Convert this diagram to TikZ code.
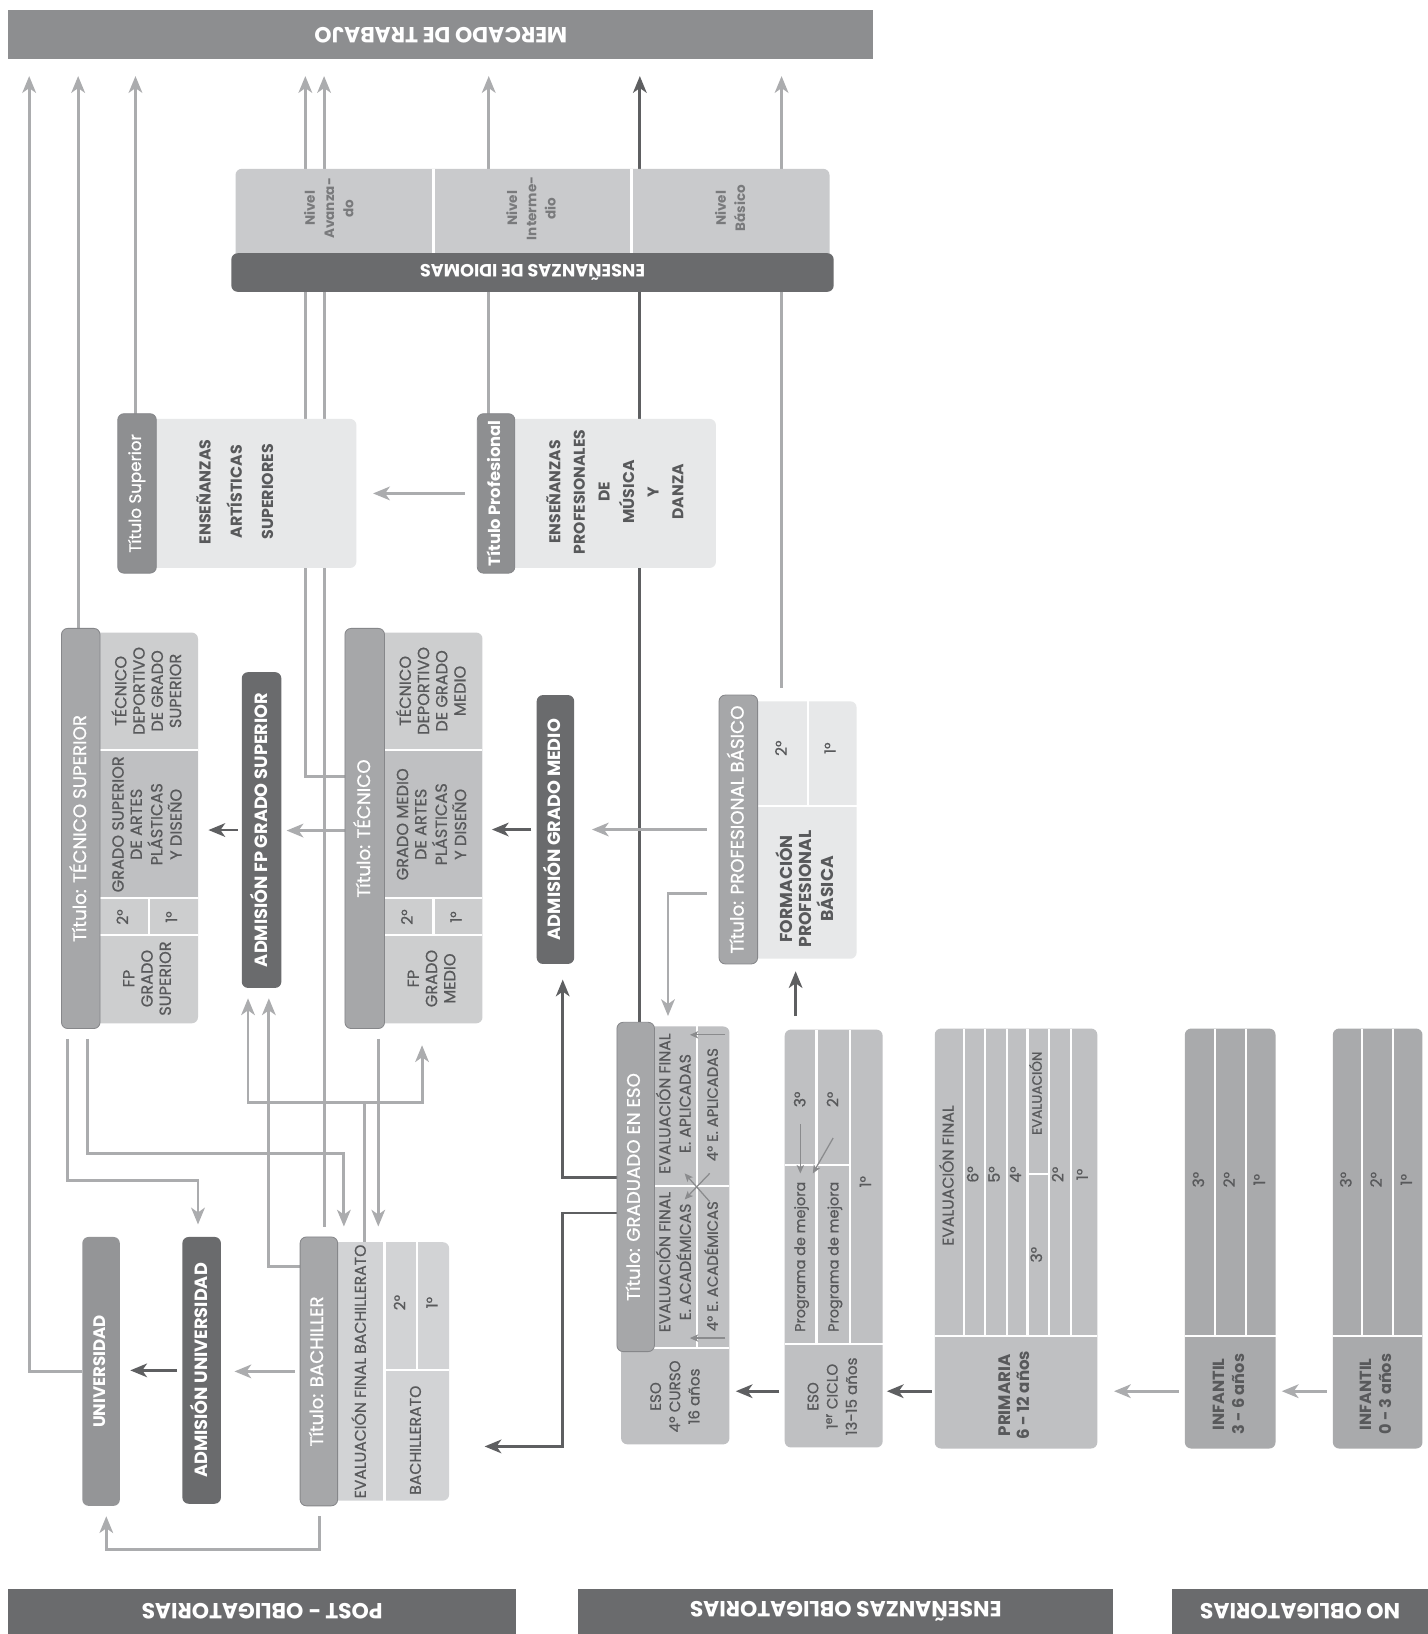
\documentclass[tikz,border=0pt]{standalone}
\usepackage{fontspec}
\setmainfont{Poppins}[UprightFeatures={FakeBold=0.8}]
\usetikzlibrary{arrows.meta}
\pgfdeclarelayer{bg}
\pgfsetlayers{bg,main}
\definecolor{cBanner}{HTML}{8D8E90}
\definecolor{cDark}{HTML}{6A6B6D}
\definecolor{cBar}{HTML}{A6A7A9}
\definecolor{cBarEdge}{HTML}{86878A}
\definecolor{cBarD}{HTML}{8E8F91}
\definecolor{cUni}{HTML}{949597}
\definecolor{cLight}{HTML}{E7E8E9}
\definecolor{cTec}{HTML}{CDCECF}
\definecolor{cArt}{HTML}{BFC0C2}
\definecolor{cBach}{HTML}{D2D3D5}
\definecolor{cEso}{HTML}{BFC0C2}
\definecolor{cInf}{HTML}{A9AAAC}
\definecolor{cIdi}{HTML}{C9CACC}
\definecolor{cArrG}{HTML}{ABACAE}
\definecolor{cArrD}{HTML}{5E5F61}
\definecolor{cThin}{HTML}{8A8B8D}
\definecolor{cTxt}{HTML}{58595B}
\newcommand\fs[2]{\fontsize{#1}{#2}\selectfont}
\newcommand\vt[1]{\rotatebox{90}{\begin{tabular}{@{}c@{}}#1\end{tabular}}}
\newcommand\ut[1]{\rotatebox{180}{#1}}
\begin{document}
\begin{tikzpicture}[x=1pt,y=-1pt,
  blk/.style={rectangle, inner sep=0pt, outer sep=0pt, rounded corners=6pt},
  bar/.style={blk, fill=cBar, draw=cBarEdge, line width=0.8pt, text=white, font=\fs{17.5}{20}},
  barD/.style={blk, fill=cBarD, draw=cBarEdge, line width=0.8pt, text=white, font=\fs{16}{19}},
  adm/.style={blk, fill=cDark, text=white, font=\fs{17}{20}\bfseries},
  banner/.style={rectangle, inner sep=0pt, outer sep=0pt, text=white, font=\fs{21}{24}\bfseries},
  cell/.style={inner sep=0pt, text=cTxt, font=\fs{15.5}{17.5}},
  cellS/.style={inner sep=0pt, text=cTxt, font=\fs{15}{19.5}},
  cellB/.style={inner sep=0pt, text=cTxt, font=\fs{15}{18}\bfseries},
  div/.style={white, line width=2pt},
  gl/.style={draw=cArrG, line width=2.8pt},
  ga/.style={gl, -{Stealth[length=16pt,width=13pt,inset=4.5pt]}},
  dl/.style={draw=cArrD, line width=2.8pt},
  da/.style={dl, -{Stealth[length=16pt,width=13pt,inset=4.5pt]}},
  tl/.style={draw=cThin, line width=1.2pt},
  ta/.style={tl, -{Stealth[length=8pt,width=7pt,inset=2pt]}}
]
\useasboundingbox (0,0) rectangle (1370,1568);
\begin{pgfonlayer}{bg}
\fill[white] (0,0) rectangle (1370,1568);
\end{pgfonlayer}

% ---------------- banners
\node[banner, fill=cBanner, minimum width=830pt, minimum height=47pt] (mercado) at (423,33.5) {\ut{MERCADO DE TRABAJO}};
\node[banner, fill=cDark, minimum width=487pt, minimum height=43pt] (post) at (251.5,1546.5) {\ut{POST - OBLIGATORIAS}};
\node[banner, fill=cDark, minimum width=513pt, minimum height=43pt] (oblig) at (811.5,1546.5) {\ut{ENSEÑANZAS OBLIGATORIAS}};
\node[banner, fill=cDark, minimum width=245pt, minimum height=43pt] (noob) at (1247.5,1546.5) {\ut{NO OBLIGATORIAS}};

% ---------------- idiomas
\node[blk, fill=cIdi, minimum width=570pt, minimum height=95pt] (idibox) at (511,209.5) {};
\draw[div] (416,162) -- (416,243);
\draw[div] (606,162) -- (606,243);
\node[adm, fill=cDark, minimum width=578pt, minimum height=37pt] (idibar) at (511,261.5) {\ut{ENSEÑANZAS DE IDIOMAS}};
\node[inner sep=0pt, text=cDark!90, font=\fs{13}{18.5}\bfseries] (niv1) at (317,200) {\vt{Nivel\\Avanza-\\do}};
\node[inner sep=0pt, text=cDark!90, font=\fs{13}{18.5}\bfseries] (niv2) at (511,200) {\vt{Nivel\\Interme-\\dio}};
\node[inner sep=0pt, text=cDark!90, font=\fs{13}{18.5}\bfseries] (niv3) at (702,200) {\vt{Nivel\\Básico}};

% ---------------- artisticas / musica
\node[blk, fill=cLight, minimum width=207pt, minimum height=143pt] (artsup) at (238.5,473.5) {};
\node[barD, minimum width=37pt, minimum height=153pt] (tsuperior) at (131.5,473.5) {\vt{Título Superior}};
\node[cellB, font=\fs{15.2}{30}\bfseries] (tart) at (226,472) {\vt{ENSEÑANZAS\\ARTÍSTICAS\\SUPERIORES}};
\node[blk, fill=cLight, minimum width=211pt, minimum height=143pt] (musica) at (581.5,473.5) {};
\node[barD, minimum width=36pt, minimum height=153pt, font=\fs{15.7}{19}\bfseries] (tprof) at (476,473.5) {\vt{Título Profesional}};
\node[cellB, font=\fs{15}{23.6}\bfseries] (tmus) at (592,472) {\vt{ENSEÑANZAS\\PROFESIONALES\\DE\\MÚSICA\\Y\\DANZA}};

% ---------------- tecnico superior
\node[blk, fill=cTec, minimum width=112pt, minimum height=375pt] (tsupbox) at (134,794.5) {};
\fill[cArt] (96,720) rectangle (190,862);
\draw[div] (96,720) -- (190,720);
\draw[div] (96,862) -- (190,862);
\draw[div] (96,897) -- (190,897);
\draw[div] (143,862) -- (143,897);
\node[bar, minimum width=37pt, minimum height=384pt] (ttsup) at (77.5,795) {\vt{Título: TÉCNICO SUPERIOR}};
\node[cell] (ts1) at (143,663) {\vt{TÉCNICO\\DEPORTIVO\\DE GRADO\\SUPERIOR}};
\node[cell] (ts2) at (143,791) {\vt{GRADO SUPERIOR\\DE ARTES\\PLÁSTICAS\\Y DISEÑO}};
\node[cellS] (ts3) at (119,880) {\vt{2°}};
\node[cellS] (ts4) at (166,880) {\vt{1°}};
\node[cell] (ts5) at (143,939) {\vt{FP\\GRADO\\SUPERIOR}};

\node[adm, minimum width=38pt, minimum height=303pt] (admFPGS) at (251,796.5) {\vt{ADMISIÓN FP GRADO SUPERIOR}};

% ---------------- tecnico
\node[blk, fill=cTec, minimum width=113pt, minimum height=375pt] (tecbox) at (406.5,794.5) {};
\fill[cArt] (369,720) rectangle (463,862);
\draw[div] (369,720) -- (463,720);
\draw[div] (369,862) -- (463,862);
\draw[div] (369,897) -- (463,897);
\draw[div] (416,862) -- (416,897);
\node[bar, minimum width=38pt, minimum height=384pt] (ttec) at (350,795) {\vt{Título: TÉCNICO}};
\node[cell] (tc1) at (416,663) {\vt{TÉCNICO\\DEPORTIVO\\DE GRADO\\MEDIO}};
\node[cell] (tc2) at (416,791) {\vt{GRADO MEDIO\\DE ARTES\\PLÁSTICAS\\Y DISEÑO}};
\node[cellS] (tc3) at (392,880) {\vt{2°}};
\node[cellS] (tc4) at (439,880) {\vt{1°}};
\node[cell] (tc5) at (416,939) {\vt{FP\\GRADO\\MEDIO}};

\node[adm, minimum width=36pt, minimum height=258pt] (admGM) at (533,796) {\vt{ADMISIÓN GRADO MEDIO}};

% ---------------- profesional basico
\node[blk, fill=cLight, minimum width=114pt, minimum height=247pt] (pbbox) at (765,796.5) {};
\draw[div] (727,773) -- (822,773);
\draw[div] (775,673) -- (775,773);
\node[bar, minimum width=37pt, minimum height=258pt] (tpb) at (708.5,796) {\vt{Título: PROFESIONAL BÁSICO}};
\node[cellS] (pb1) at (751,718) {\vt{2°}};
\node[cellS] (pb2) at (798,718) {\vt{1°}};
\node[cellB, font=\fs{16.5}{18}\bfseries] (pb3) at (775,853) {\vt{FORMACIÓN\\PROFESIONAL\\BÁSICA}};

% ---------------- bachiller
\node[blk, fill=cBach, minimum width=125pt, minimum height=248pt] (bachbox) at (368.5,1316) {};
\draw[div] (369,1192) -- (369,1440);
\draw[div] (369,1315) -- (431,1315);
\draw[div] (400,1192) -- (400,1315);
\node[bar, minimum width=36pt, minimum height=258pt] (tbach) at (306,1316) {\vt{Título: BACHILLER}};
\node[cellS] (b1) at (347,1316) {\vt{EVALUACIÓN FINAL BACHILLERATO}};
\node[cellS] (b2) at (385,1250) {\vt{2°}};
\node[cellS] (b3) at (416,1250) {\vt{1°}};
\node[cellS] (b4) at (400,1382) {\vt{BACHILLERATO}};

\node[adm, minimum width=37pt, minimum height=256pt] (admU) at (193.5,1315) {\vt{ADMISIÓN UNIVERSIDAD}};
\node[blk, fill=cUni, text=white, font=\fs{16}{19}\bfseries, minimum width=36pt, minimum height=258pt] (univ) at (97,1316) {\vt{UNIVERSIDAD}};

% ---------------- ESO 4
\node[blk, fill=cEso, minimum width=104pt, minimum height=401pt] (eso4) at (648,1185.5) {};
\draw[div] (669,985) -- (669,1293.5);
\draw[div] (628,1138.5) -- (700,1138.5);
\draw[div] (628,1293.5) -- (700,1293.5);
\node[bar, minimum width=36pt, minimum height=316pt] (tgrad) at (610,1139) {\vt{Título: GRADUADO EN ESO}};
\node[cellS] (e1) at (649,1059) {\vt{EVALUACIÓN FINAL\\E. APLICADAS}};
\node[cellS] (e2) at (649,1211) {\vt{EVALUACIÓN FINAL\\E. ACADÉMICAS}};
\node[cellS, font=\fs{14.2}{19}] (e3) at (685,1060) {\vt{4° E. APLICADAS}};
\node[cellS, font=\fs{14.2}{19}] (e4) at (685,1215) {\vt{4° E. ACADÉMICAS}};
\node[cellS, font=\fs{14.5}{18.5}] (e5) at (649,1340) {\vt{ESO\\4º CURSO\\16 años}};
\draw[ta] (696,993) -- (662,993);
\draw[ta] (696,1284) -- (662,1284);
\draw[ta] (681,1126) -- (657,1151);
\draw[ta] (681,1153) -- (657,1126);

% ---------------- ESO 1
\node[blk, fill=cEso, minimum width=94pt, minimum height=401pt] (eso1) at (800,1188.5) {};
\draw[div] (753,1289.5) -- (847,1289.5);
\draw[div] (783.5,988) -- (783.5,1289.5);
\draw[div] (816,988) -- (816,1289.5);
\draw[div] (753,1118) -- (816,1118);
\node[cellS] (o1) at (769,1055) {\vt{3°}};
\node[cellS] (o2) at (800.5,1055) {\vt{2°}};
\node[cellS, font=\fs{13.8}{18}] (o3) at (769,1206) {\vt{Programa de mejora}};
\node[cellS, font=\fs{13.8}{18}] (o4) at (801,1206) {\vt{Programa de mejora}};
\node[cellS] (o5) at (832,1134) {\vt{1°}};
\node[cellS, font=\fs{14.5}{18.5}] (o6) at (800,1340) {\vt{ESO\\1\textsuperscript{er} CICLO\\13-15 años}};
\draw[ta] (768,1079) -- (768,1126);
\draw[ta] (799.5,1092) -- (780,1126);

% ---------------- primaria
\node[blk, fill=cEso, minimum width=156pt, minimum height=403pt] (prim) at (975,1188.5) {};
\draw[div] (897,1282) -- (1053,1282);
\foreach \xx in {925,945,966,986,1006.5,1027.5} \draw[div] (\xx,987) -- (\xx,1282);
\draw[div] (986,1126.5) -- (1006.5,1126.5);
\node[cellS] (p1) at (911,1128) {\vt{EVALUACIÓN FINAL}};
\node[cellS] (p2) at (935,1127) {\vt{6°}};
\node[cellS] (p3) at (955.5,1127) {\vt{5°}};
\node[cellS] (p4) at (976,1127) {\vt{4°}};
\node[cellS, font=\fs{13}{16}] (p5) at (996,1049) {\vt{EVALUACIÓN}};
\node[cellS] (p6) at (996,1204) {\vt{3°}};
\node[cellS] (p7) at (1016.5,1127) {\vt{2°}};
\node[cellS] (p8) at (1040,1127) {\vt{1°}};
\node[cellB, font=\fs{16}{19}\bfseries] (p9) at (975,1339) {\vt{PRIMARIA\\6 - 12 años}};

% ---------------- infantil
\node[blk, fill=cInf, minimum width=87pt, minimum height=403pt] (inf36) at (1180.5,1188.5) {};
\draw[div] (1137,1282) -- (1224,1282);
\draw[div] (1166,987) -- (1166,1282);
\draw[div] (1196,987) -- (1196,1282);
\node[cellS] (i1) at (1151.5,1132) {\vt{3°}};
\node[cellS] (i2) at (1181,1132) {\vt{2°}};
\node[cellS] (i3) at (1210,1132) {\vt{1°}};
\node[cellB, font=\fs{15.5}{19}\bfseries] (i4) at (1180.5,1338) {\vt{INFANTIL\\3 - 6 años}};

\node[blk, fill=cInf, minimum width=86pt, minimum height=403pt] (inf03) at (1322,1188.5) {};
\draw[div] (1279,1282) -- (1365,1282);
\draw[div] (1307,987) -- (1307,1282);
\draw[div] (1337,987) -- (1337,1282);
\node[cellS] (j1) at (1293,1132) {\vt{3°}};
\node[cellS] (j2) at (1322,1132) {\vt{2°}};
\node[cellS] (j3) at (1351,1132) {\vt{1°}};
\node[cellB, font=\fs{15.5}{19}\bfseries] (j4) at (1322,1338) {\vt{INFANTIL\\0 - 3 años}};

% ---------------- connectors (behind boxes)
\begin{pgfonlayer}{bg}
% to mercado de trabajo
\draw[ga, shorten >=16pt] (univ.west) -| (mercado.south -| 28,0);
\draw[ga, shorten >=16pt] ([xshift=-2.5pt]ttsup.north) -- ([xshift=-2.5pt]ttsup.north |- mercado.south);
\draw[ga, shorten >=16pt] ([xshift=-1.5pt]tsuperior.north) -- ([xshift=-1.5pt]tsuperior.north |- mercado.south);
\draw[ga, shorten >=16pt] ([yshift=50pt]ttec.west) -| (mercado.south -| 293,0);
\draw[ga, shorten <=10pt, shorten >=16pt] ([xshift=5pt]tbach.north) -- ([xshift=5pt]tbach.north |- mercado.south);
\draw[ga, shorten >=16pt] ([xshift=-7pt]tprof.north) -- ([xshift=-7pt]tprof.north |- mercado.south);
\draw[da, shorten >=16pt] ([xshift=4pt]tgrad.north) -- ([xshift=4pt]tgrad.north |- mercado.south);
\draw[ga, shorten >=16pt] ([xshift=-15pt,yshift=13pt]pbbox.north) -- ([xshift=-15pt]pbbox.north |- mercado.south);
% infantil / primaria / eso
\draw[ga, shorten <=6pt, shorten >=6pt] (inf03.west |- 0,1335) -- (inf36.east |- 0,1335);
\draw[ga, shorten <=6pt, shorten >=16pt] (inf36.west |- 0,1335) -- (prim.east |- 0,1335);
\draw[da, shorten <=3pt, shorten >=4pt] (prim.west |- 0,1335) -- (eso1.east |- 0,1335);
\draw[da, shorten <=5pt, shorten >=6pt] (eso1.west |- 0,1335) -- (eso4.east |- 0,1335);
\draw[da, shorten <=13pt, shorten >=12pt] (eso1.north -| 763.5,0) -- (pbbox.south -| 763.5,0);
% profesional basico
\draw[ga, shorten <=12pt, shorten >=17pt] (tpb.west) -- (tpb.west -| admGM.east);
\draw[ga, shorten <=12pt, shorten >=10pt] ([yshift=-61pt]tpb.west) -| (eso4.north -| 641,0);
% graduado en eso
\draw[da, shorten >=15pt] ([yshift=9pt]tgrad.west) -| (admGM.south -| 540,0);
\draw[da, shorten >=34pt] ([yshift=-25pt]tgrad.west) -| (540,1388) -- (bachbox.east |- 0,1388);
% admisiones
\draw[ga, shorten >=5pt] (ttec.west |- 0,797) -- (admFPGS.east |- 0,797);
\draw[da, shorten <=4pt, shorten >=10pt] (admFPGS.west) -- (admFPGS.west -| tsupbox.east);
\draw[da, shorten <=5pt, shorten >=9pt] (admGM.west) -- (admGM.west -| tecbox.east);
\draw[ga, shorten <=12pt, shorten >=16pt] (tprof.west) -- (tprof.west -| artsup.east);
\draw[ga, shorten <=5pt, shorten >=13pt] (tbach.west) -- (tbach.west -| admU.east);
\draw[da, shorten <=5pt, shorten >=10pt] (admU.west) -- (admU.west -| univ.east);
\draw[ga, shorten <=10pt, shorten >=10pt] ([xshift=1pt]tbach.south) -- ++(0,42) -| ([xshift=5pt]univ.south);
% tecnico superior bottom
\draw[ga, shorten <=10pt, shorten >=12pt] ([xshift=-12.5pt]ttsup.south) |- (190,1133) -- (admU.north -| 190,0);
\draw[ga, shorten <=10pt, shorten >=10pt] ([xshift=6.5pt]ttsup.south) |- (330,1107) -- (tbach.north -| 330,0);
% tecnico bottom
\draw[ga, shorten <=10pt, shorten >=10pt] ([xshift=13pt]ttec.south) -- ([xshift=13pt]ttec.south |- tbach.north);
% bachiller to admisiones FP
\coordinate (jB) at (350,1058);
\draw[gl] (bachbox.north -| jB) -- (jB);
\draw[ga, shorten >=10pt] (jB) -| (admFPGS.south -| 238,0);
\draw[ga, shorten >=21pt] (jB) -| (tecbox.south -| 405,0);
\draw[ga, shorten >=10pt] ([yshift=101pt]tbach.west) -| (admFPGS.south -| 258,0);
\end{pgfonlayer}
\end{tikzpicture}
\end{document}
